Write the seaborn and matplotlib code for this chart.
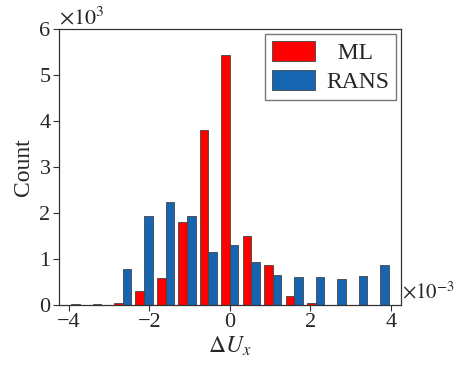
import matplotlib
matplotlib.use("Agg")
import matplotlib.pyplot as plt
import numpy as np
import pandas as pd
import seaborn as sns

# bin centres (units of 1e-3), 15 bins over [-4, 4]
bin_centres = [-3.733, -3.2, -2.667, -2.133, -1.6, -1.067, -0.533, 0.0,
               0.533, 1.067, 1.6, 2.133, 2.667, 3.2, 3.733]
# counts (units of 1e3)
ml_counts = [0.025, 0.025, 0.04, 0.30, 0.58, 1.80, 3.80, 5.44,
             1.50, 0.87, 0.19, 0.04, 0.005, 0.005, 0.0]
rans_counts = [0.005, 0.005, 0.79, 1.93, 2.24, 1.93, 1.15, 1.31,
               0.93, 0.65, 0.61, 0.61, 0.56, 0.64, 0.86]

df = pd.DataFrame({
    "x": bin_centres * 2,
    "count": ml_counts + rans_counts,
    "model": ["ML"] * len(bin_centres) + ["RANS"] * len(bin_centres),
})

sns.set_style("ticks")
plt.rcParams["font.family"] = ["Liberation Serif", "DejaVu Serif"]
plt.rcParams["mathtext.fontset"] = "stix"

fig = plt.figure(figsize=(4.57, 3.72), dpi=100)
ax = fig.add_axes([0.129, 0.180, 0.748, 0.742])

sns.histplot(data=df, x="x", weights="count", hue="model", bins=15,
             binrange=(-4, 4), multiple="dodge", shrink=0.8,
             palette={"ML": "#FF0000", "RANS": "#1565B0"}, alpha=1,
             edgecolor="#444444", linewidth=0.6, ax=ax, legend=True)

ax.set_xlim(-4.25, 4.25)
ax.set_ylim(0, 6)
ax.set_xticks([-4, -2, 0, 2, 4])
ax.set_xticklabels(["\u22124", "\u22122", "0", "2", "4"])
ax.set_yticks(range(7))
ax.tick_params(labelsize=16, direction="out", length=4, width=0.8, color="#333333", pad=2)
for s in ax.spines.values():
    s.set_visible(True)
    s.set_color("#333333")
    s.set_linewidth(0.9)

ax.set_xlabel(r"$\Delta U_x$", fontsize=17, labelpad=2)
ax.set_ylabel("Count", fontsize=17, labelpad=4)

ax.text(0.0, 1.0, r"$\times 10^3$", transform=ax.transAxes, fontsize=16,
        ha="left", va="bottom")
ax.text(1.003, 0.045, r"$\times 10^{-3}$", transform=ax.transAxes, fontsize=15,
        ha="left", va="center")

leg = ax.get_legend()
handles = leg.legend_handles
leg.remove()
ax.legend(handles, ["  ML", "RANS"], loc="upper right", fontsize=17,
          frameon=True, fancybox=False, edgecolor="#555555",
          handlelength=1.85, handleheight=0.95, borderaxespad=0.2,
          borderpad=0.3, labelspacing=0.25, handletextpad=0.45)

fig.savefig("out.png", dpi=100)
